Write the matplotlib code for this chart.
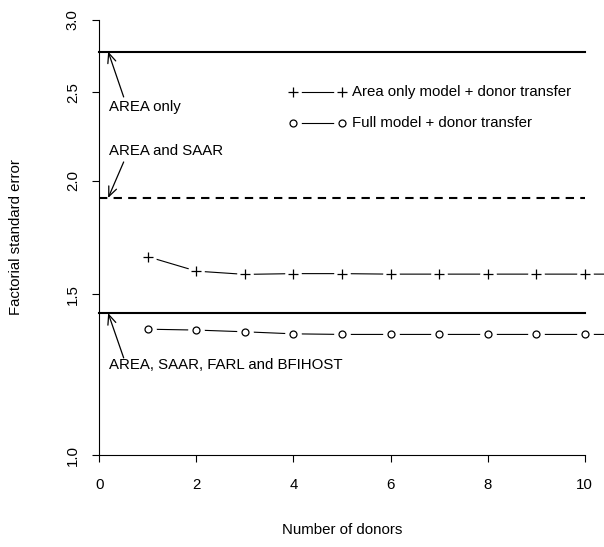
import numpy as np
import matplotlib
matplotlib.use("Agg")
import matplotlib.pyplot as plt
from matplotlib.ticker import FixedLocator, FixedFormatter, NullLocator

# ---------------------------------------------------------------------------
# data
# ---------------------------------------------------------------------------
donors = [1, 2, 3, 4, 5, 6, 7, 8, 9, 10, 11]
area_transfer = [1.650, 1.591, 1.578, 1.581, 1.581, 1.579, 1.579, 1.579, 1.579, 1.579, 1.579]
full_transfer = [1.374, 1.371, 1.365, 1.358, 1.356, 1.356, 1.356, 1.356, 1.356, 1.356, 1.356]

ref_levels = [2.77, 1.914, 1.431]
ref_styles = ["-", (0, (4, 3)), "-"]
ref_labels = ["AREA only", "AREA and SAAR", "AREA, SAAR, FARL and BFIHOST"]
ref_label_y = [2.41, 2.155, 1.255]
ref_tail_y = [2.47, 2.096, 1.278]

legend_labels = ["Area only model + donor transfer", "Full model + donor transfer"]
legend_y = [2.50, 2.313]

x_ticks = [0, 2, 4, 6, 8, 10]
y_ticks = [1.0, 1.5, 2.0, 2.5, 3.0]

plt.rcParams["font.family"] = ["Liberation Sans", "DejaVu Sans"]
FS = 10.8

W, H = 604, 547
fig = plt.figure(figsize=(W / 100, H / 100), dpi=100)
ax = fig.add_axes([80 / W, (H - 472.4) / H, 524 / W, 469.8 / H])


def type_b(x, y, marker, ms):
    # R style type="b": line with gaps around the points
    ax.plot(x, y, color="black", lw=0.8, zorder=2)
    ax.plot(x, y, ls="none", marker="o", ms=12, mfc="white", mec="none", zorder=3)
    ax.plot(x, y, ls="none", marker=marker, ms=ms, mfc="none", mec="black",
            mew=0.9, zorder=4)


type_b(donors, area_transfer, "+", 6.5)
type_b(donors, full_transfer, "o", 5)

# reference lines for the models without donors
for lvl, ls in zip(ref_levels, ref_styles):
    ax.plot([0, 10], [lvl, lvl], color="black", lw=1.5, ls=ls, zorder=2)

for lvl, lab, ty, tail in zip(ref_levels, ref_labels, ref_label_y, ref_tail_y):
    ax.text(0.2, ty, lab, ha="left", va="center", fontsize=FS)
    ax.annotate("", xy=(0.18, lvl), xytext=(0.5, tail),
                arrowprops=dict(arrowstyle="->,head_length=0.7,head_width=0.3",
                                lw=0.9, color="black", shrinkA=0, shrinkB=0))

# legend (no box)
for lab, ly, mk, ms in zip(legend_labels, legend_y, ["+", "o"], [6.5, 5]):
    type_b([4, 5], [ly, ly], mk, ms)
    ax.text(5.2, ly, lab, ha="left", va="center", fontsize=FS)

ax.set_yscale("log")
ax.set_xlim(-0.4, 10.4)
ax.set_ylim(np.exp(-0.0439), np.exp(1.1425))

ax.xaxis.set_major_locator(FixedLocator(x_ticks))
ax.xaxis.set_major_formatter(FixedFormatter([str(t) for t in x_ticks]))
ax.yaxis.set_major_locator(FixedLocator(y_ticks))
ax.yaxis.set_major_formatter(FixedFormatter([f"{t:.1f}" for t in y_ticks]))
ax.yaxis.set_minor_locator(NullLocator())

for s in ["top", "right"]:
    ax.spines[s].set_visible(False)
ax.spines["left"].set_position(("data", 0))
ax.spines["left"].set_bounds(1, 3)
ax.spines["bottom"].set_position(("data", 1))
ax.spines["bottom"].set_bounds(0, 10)
for s in ["left", "bottom"]:
    ax.spines[s].set_linewidth(0.8)

ax.tick_params(axis="both", direction="out", length=5, width=0.8, labelsize=FS)
ax.tick_params(axis="x", pad=11.5)
ax.tick_params(axis="y", pad=9)
for t in ax.get_yticklabels():
    t.set_rotation(90)
    t.set_va("center")

ax.set_xlabel("Number of donors", fontsize=FS)
ax.xaxis.set_label_coords(0.5, -0.107)
ax.set_ylabel("Factorial standard error", fontsize=FS)
ax.yaxis.set_label_coords(-0.109, 0.5)

fig.savefig("out.png", dpi=100)
